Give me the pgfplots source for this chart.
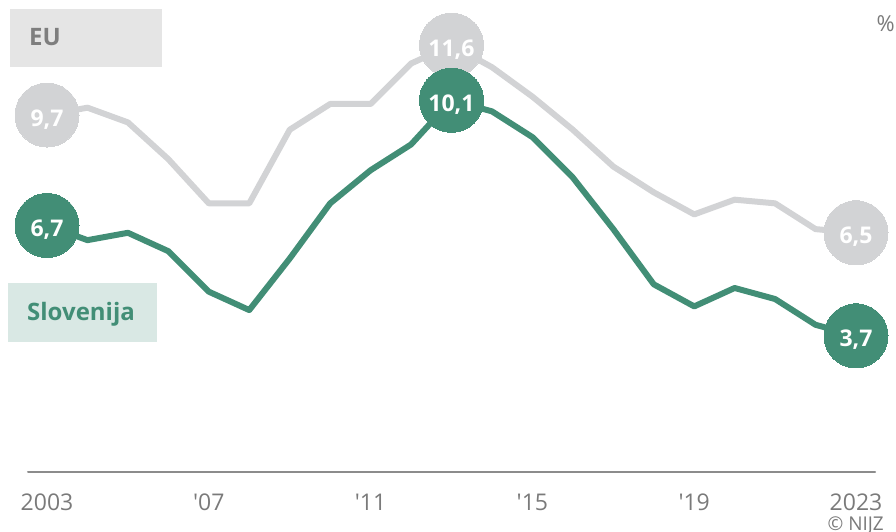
\documentclass[border=0pt]{standalone}
\usepackage{pgfplots}
\pgfplotsset{compat=1.18}
\usepackage{fontspec}
\setmainfont{Open Sans}

\definecolor{eugray}{HTML}{D2D3D5}
\definecolor{slogreen}{HTML}{428E76}
\definecolor{eubox}{HTML}{E5E5E5}
\definecolor{eutext}{HTML}{7E7E7E}
\definecolor{slobox}{HTML}{D9E8E4}
\definecolor{labgray}{HTML}{7A7A7A}
\definecolor{axgray}{HTML}{8C8C8C}

\begin{document}
\begin{tikzpicture}
\begin{axis}[
    scale only axis,
    width=847pt, height=472pt,
    xmin=2002.53, xmax=2023.47,
    ymin=0, ymax=12.826,
    clip=false,
    axis y line=none,
    axis x line=bottom,
    x axis line style={draw=axgray, line width=2pt, -},
    xtick={2003,2007,2011,2015,2019,2023},
    xticklabels={2003,\textquotesingle07,\textquotesingle11,\textquotesingle15,\textquotesingle19,2023},
    major tick length=0pt,
    xtick style={draw=none},
    xticklabel style={anchor=base, yshift=-38pt, text=labgray,
        font=\fontsize{23}{23}\selectfont},
    /pgf/number format/assume math mode=true,
    line join=round, line cap=round,
]
% EU
\addplot[eugray, line width=6pt] coordinates {
    (2003,9.7) (2004,9.9) (2005,9.5) (2006,8.5) (2007,7.3) (2008,7.3)
    (2009,9.3) (2010,10.0) (2011,10.0) (2012,11.1) (2013,11.6) (2014,11.0)
    (2015,10.2) (2016,9.3) (2017,8.3) (2018,7.6) (2019,7.0) (2020,7.4)
    (2021,7.3) (2022,6.6) (2023,6.5)
};
\addplot[eugray, only marks, mark=*, mark size=32pt,
    mark options={fill=eugray, draw=eugray, line width=0pt},
    point meta=explicit symbolic, nodes near coords,
    every node near coord/.append style={anchor=base, yshift=-11pt,
        text=white, font=\bfseries\fontsize{23}{23}\selectfont}]
    coordinates {(2003,9.7)[9,7] (2013,11.6)[11,6] (2023,6.5)[6,5]};
% Slovenija
\addplot[slogreen, line width=6pt] coordinates {
    (2003,6.7) (2004,6.3) (2005,6.5) (2006,6.0) (2007,4.9) (2008,4.4)
    (2009,5.8) (2010,7.3) (2011,8.2) (2012,8.9) (2013,10.1) (2014,9.8)
    (2015,9.1) (2016,8.0) (2017,6.6) (2018,5.1) (2019,4.5) (2020,5.0)
    (2021,4.7) (2022,4.0) (2023,3.7)
};
\addplot[slogreen, only marks, mark=*, mark size=32pt,
    mark options={fill=slogreen, draw=slogreen, line width=0pt},
    point meta=explicit symbolic, nodes near coords,
    every node near coord/.append style={anchor=base, yshift=-11pt,
        text=white, font=\bfseries\fontsize{23}{23}\selectfont}]
    coordinates {(2003,6.7)[6,7] (2013,10.1)[10,1] (2023,3.7)[3,7]};

% picture frame in pixel units from the top left corner
\coordinate (TL) at ([xshift=-28pt]rel axis cs:0,1);
% legend boxes
\fill[eubox] ([shift={(10pt,-9pt)}]TL) rectangle ([shift={(162pt,-67pt)}]TL);
\node[anchor=base west, inner sep=0, text=eutext,
    font=\bfseries\fontsize{24}{24}\selectfont]
    at ([shift={(29pt,-46pt)}]TL) {EU};
\fill[slobox] ([shift={(8pt,-283pt)}]TL) rectangle ([shift={(157pt,-342pt)}]TL);
\node[anchor=base west, inner sep=0, text=slogreen,
    font=\bfseries\fontsize{24}{24}\selectfont]
    at ([shift={(27pt,-321pt)}]TL) {Slovenija};
% unit and source
\node[anchor=base east, inner sep=0, text=labgray,
    font=\fontsize{22}{22}\selectfont]
    at ([shift={(895pt,-32pt)}]TL) {\%};
\node[anchor=base east, inner sep=0, text=labgray,
    font=\fontsize{19}{19}\selectfont]
    at ([shift={(884pt,-530pt)}]TL) {© NIJZ};
\end{axis}
\pgfresetboundingbox
\path (TL) rectangle ([shift={(896pt,-532pt)}]TL);
\end{tikzpicture}
\end{document}
